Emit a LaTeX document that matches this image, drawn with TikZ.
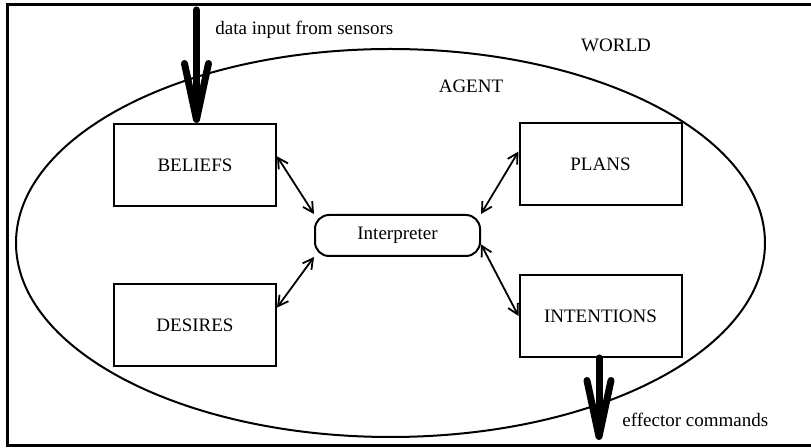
\documentclass[tikz,border=0pt]{standalone}
\usepackage{fontspec}
\setmainfont{Liberation Serif}
\usetikzlibrary{calc, arrows, positioning}
\usetikzlibrary{arrows.meta}

\begin{document}
\begin{tikzpicture}[x=0.5pt,y=-0.5pt,font=\fontsize{9.5}{11}\selectfont,
    part/.style={draw, line width=1pt, minimum width=81pt, minimum height=41pt, inner sep=0pt},
    link/.style={line width=0.9pt, {Straight Barb[length=5pt,width=5.5pt]}-{Straight Barb[length=5pt,width=5.5pt]}},
    bigarrow/.style={line width=3.5pt, line cap=round, -{Straight Barb[length=28pt,width=12pt,round]}},
    plain/.style={inner sep=0pt}]
\useasboundingbox (0,0) rectangle (811,448);

% frame and world / agent border
\draw[line width=1.5pt] (811,4.5) -- (7.5,4.5) -- (7.5,446) -- (811,446);
\draw[line width=1pt] (390.5,243) ellipse [x radius=187.25pt, y radius=97pt];

\node[plain, anchor=base] (world) at (616,52) {WORLD};
\node[plain, anchor=base] (agent) at (471,93) {AGENT};

% the four stores and the interpreter
\node[part] (beliefs) at (195,165) {BELIEFS};
\node[part] (desires) at (195,325) {DESIRES};
\node[part] (plans) at (600.5,164.5) {PLANS};
\node[part] (intentions) at (600.5,316) {INTENTIONS};
\node[draw, line width=1pt, rounded corners=7pt, minimum width=82.5pt, minimum height=20.5pt, inner sep=0pt]
    (interp) at (397.5,235.5) {Interpreter};

\draw[link] (beliefs.6) -- (interp.north west);
\draw[link] (desires.12.5) -- (interp.south west);
\draw[link] (plans.171.9) -- (interp.north east);
\draw[link] (intentions.west) -- (interp.-6.6);

% sensors in, effectors out
\coordinate (in) at (196.5,10);
\coordinate (out) at (599,440);
\draw[bigarrow] (in) -- (in |- beliefs.north);
\draw[bigarrow] (out |- intentions.south) -- (out);

\node[plain, anchor=base west] (sensors) at (215,35) {data input from sensors};
\node[plain, anchor=base west] (effectors) at (622,427) {effector commands};
\end{tikzpicture}
\end{document}
